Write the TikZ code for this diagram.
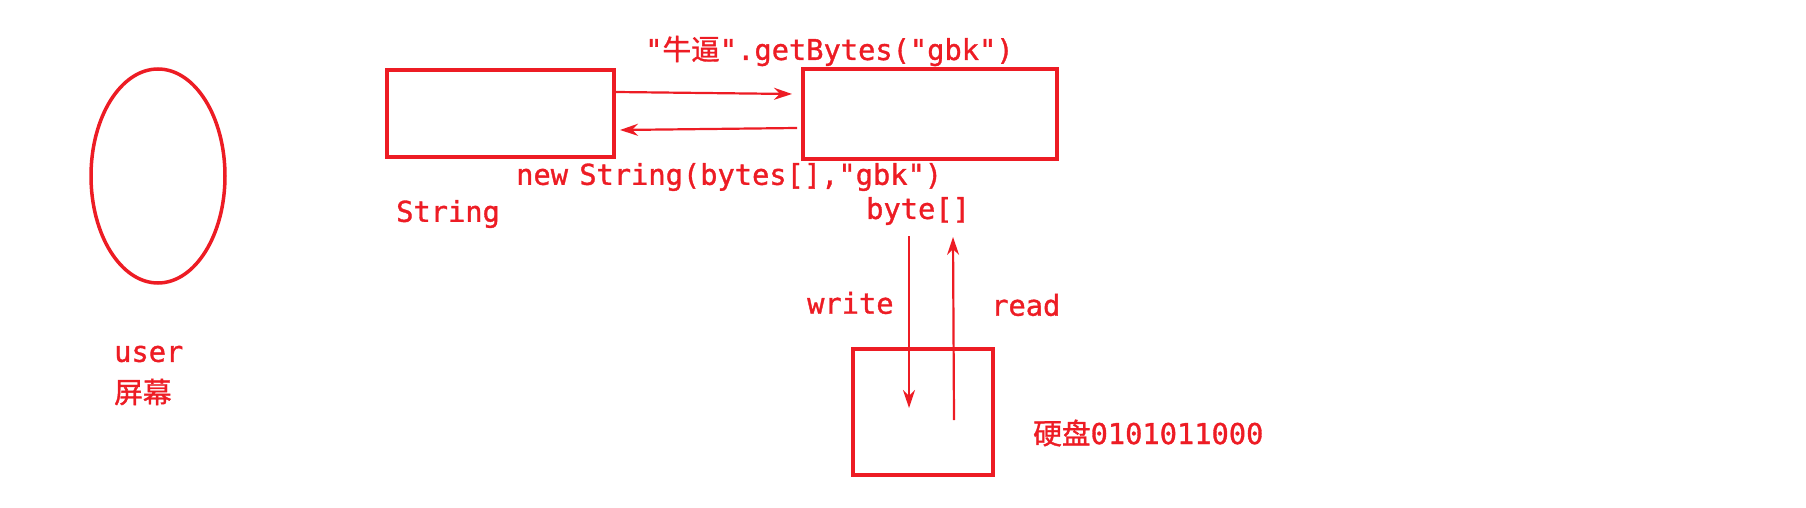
\documentclass[tikz,border=0pt]{standalone}
\usepackage{fontspec}
\usetikzlibrary{arrows.meta,shapes.geometric}
\newfontfamily\monof[FakeBold=1.2]{DejaVu Sans Mono}
\newfontfamily\cjkf[FakeBold=1.2]{Noto Sans CJK SC}
\definecolor{inkred}{RGB}{237,28,36}
\tikzset{
  box/.style={draw=inkred, line width=3.5pt, inner sep=0pt},
  lbl/.style={text=inkred, font=\monof\fontsize{28.7}{32}\selectfont, inner sep=0pt, anchor=west},
  conn/.style={draw=inkred, line width=2.2pt, -{Stealth[length=18pt,width=12pt]}},
}
\begin{document}
\begin{tikzpicture}[x=1pt,y=-1pt]
\useasboundingbox (0,0) rectangle (1806,508);
% shapes
\node[box, ellipse, minimum width=134pt, minimum height=214pt] (user) at (158,176) {};
\node[box, rectangle, minimum width=227pt, minimum height=87pt] (str) at (500.5,113.5) {};
\node[box, rectangle, minimum width=254pt, minimum height=90pt] (bytes) at (930,114) {};
\node[box, rectangle, minimum width=140pt, minimum height=126pt] (disk) at (923,412) {};
% labels
\node[lbl] (userl) at (114,354) {user};
\node[lbl] (screen) at (114,392) {\cjkf 屏幕};
\node[lbl] (getb) at (645,51) {"{\cjkf 牛逼}".getBytes("gbk")};
\node[lbl] (news) at (516,177) {new\hspace{-6pt} String(bytes[],"gbk")};
\node[lbl] (strl) at (396,214) {String};
\node[lbl] (bytel) at (866,211) {byte[]};
\node[lbl] (writel) at (807,303) {write};
\node[lbl] (readl) at (991,305) {read};
\node[lbl] (diskl) at (1033,433) {{\cjkf 硬盘}0101011000};
% connector ends
\coordinate (a1s) at (616,92);
\coordinate (a1e) at (792,94);
\coordinate (a2s) at (797,128);
\coordinate (a2e) at (620,130);
\coordinate (ws) at (909,236);
\coordinate (we) at (909,408);
\coordinate (rs) at (954,420);
\coordinate (re) at (953,237);
\draw[conn] (a1s) -- (a1e);
\draw[conn] (a2s) -- (a2e);
\draw[conn] (ws) -- (we);
\draw[conn] (rs) -- (re);
\end{tikzpicture}
\end{document}
